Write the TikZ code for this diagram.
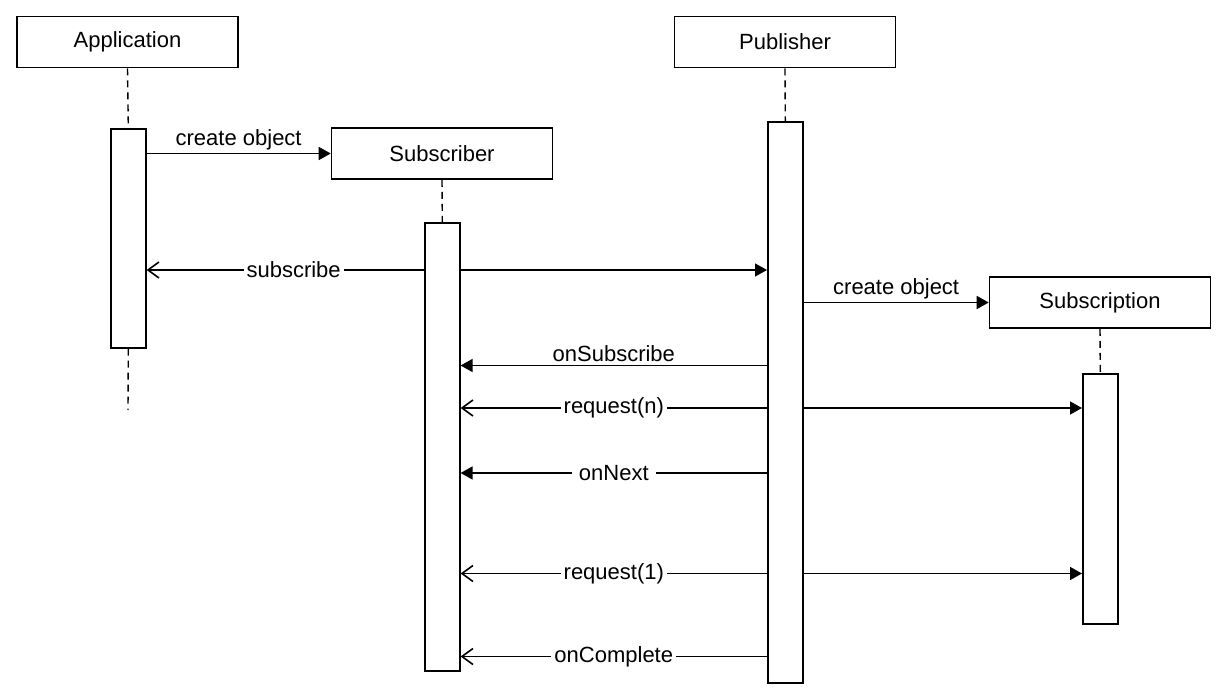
\documentclass[tikz,border=0pt]{standalone}
\usepackage{fontspec}
\setmainfont{Liberation Sans}
\usetikzlibrary{arrows.meta,calc}
\begin{document}
\begin{tikzpicture}[x=1pt,y=-1pt, line width=1.6pt,
  txt/.style={font=\fontsize{22}{26}\selectfont},
  obj/.style={draw, txt, minimum width=221pt, minimum height=51pt, inner sep=0pt},
  act/.style={draw, fill=white, minimum width=35pt, inner sep=0pt, anchor=north west},
  life/.style={dash pattern=on 7pt off 5pt, line width=1.4pt},
  msg/.style={-{Triangle[length=12pt,width=13pt]}},
  ret/.style={-{Straight Barb[length=11pt,width=16pt]}},
  lbl/.style={txt, fill=white, inner xsep=3pt, inner ysep=0pt},
  albl/.style={txt, above, inner sep=3pt}]
\useasboundingbox (0,0) rectangle (1228,700);

% objects
\node[obj] (app)  at (127.5,42)  {Application};
\node[obj] (sub)  at (442,153.5) {Subscriber};
\node[obj] (pub)  at (785,42)    {Publisher};
\node[obj] (subn) at (1100,302.5){Subscription};

% activation bars
\node[act, minimum height=219pt] (appAct)  at (110,128)  {};
\node[act, minimum height=448pt] (subAct)  at (424,222)  {};
\node[act, minimum height=561pt] (pubAct)  at (767,121)  {};
\node[act, minimum height=250pt] (subnAct) at (1082,373) {};

% lifelines
\coordinate (appEnd) at (128,410);
\draw[life] (app.south)  -- (appAct.north);
\draw[life] (appAct.south) -- (appEnd);
\draw[life] (sub.south)  -- (subAct.north);
\draw[life] (pub.south)  -- (pubAct.north);
\draw[life] (subn.south) -- (subnAct.north);

% message levels
\coordinate (ySub)   at (0,270);
\coordinate (yOnSub) at (0,365.5);
\coordinate (yReqN)  at (0,408);
\coordinate (yNext)  at (0,473);
\coordinate (yReq1)  at (0,573.5);
\coordinate (yComp)  at (0,656.5);

% messages
\draw[msg] (appAct.east |- sub.west) -- node[albl] {create object} (sub.west);

\draw[ret] (subAct.west |- ySub) -- node[lbl, pos=0.47] {subscribe} (appAct.east |- ySub);
\draw[msg] (subAct.east |- ySub) -- (pubAct.west |- ySub);

\draw[msg] (pubAct.east |- subn.west) -- node[albl] {create object} (subn.west);

\draw[msg] (pubAct.west |- yOnSub) -- node[albl] {onSubscribe} (subAct.east |- yOnSub);

\draw[ret] (pubAct.west |- yReqN) -- node[lbl] {request(n)} (subAct.east |- yReqN);
\draw[msg] (pubAct.east |- yReqN) -- (subnAct.west |- yReqN);

\draw[msg] (pubAct.west |- yNext) -- node[lbl, inner xsep=7pt] {onNext} (subAct.east |- yNext);

\draw[ret] (pubAct.west |- yReq1) -- node[lbl] {request(1)} (subAct.east |- yReq1);
\draw[msg] (pubAct.east |- yReq1) -- (subnAct.west |- yReq1);

\draw[ret] (pubAct.west |- yComp) -- node[lbl] {onComplete} (subAct.east |- yComp);
\end{tikzpicture}
\end{document}
